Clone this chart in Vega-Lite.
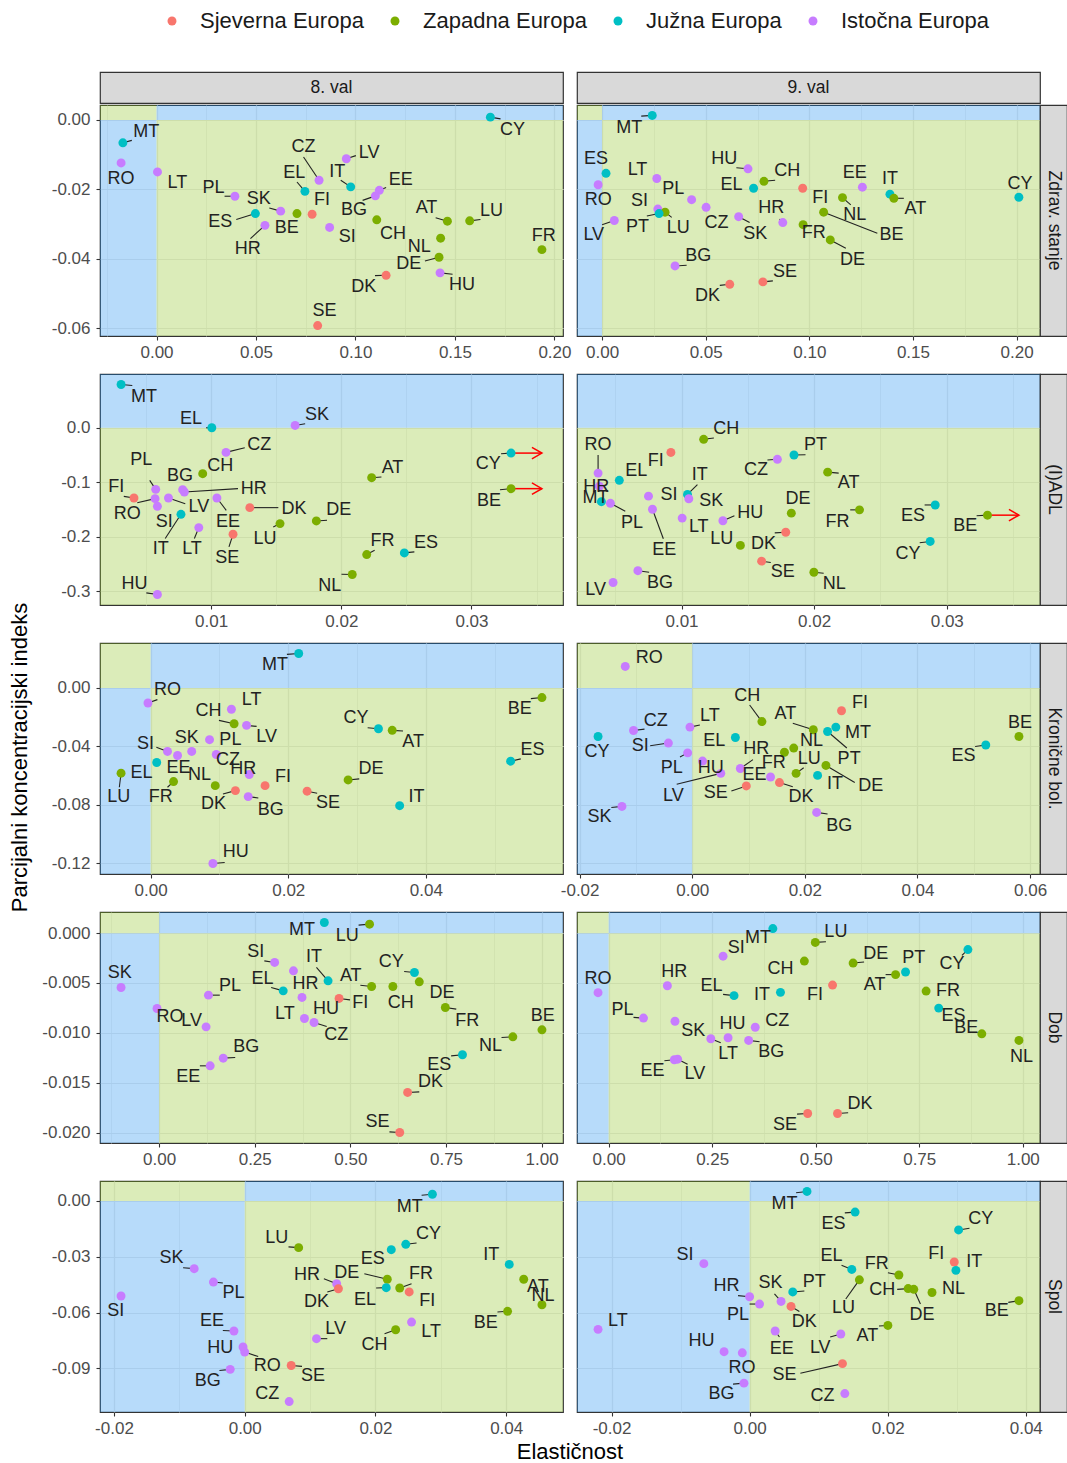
{
"$schema":"https://vega.github.io/schema/vega-lite/v6.json",
"background":"white",
"padding":{"left":9,"top":10,"right":0,"bottom":0},
"config":{
 "font":"Liberation Sans",
 "view":{"stroke":"#333333","strokeWidth":1.2},
 "axis":{"domain":false,"grid":true,"gridColor":"#ebebeb","labelFontSize":17,"labelColor":"#4d4d4d","tickColor":"#333333","tickSize":4,"tickWidth":1.1,"labelPadding":4,"labelFlush":false,"labelOverlap":false,"titleFontSize":22,"titleFontWeight":"normal","titleColor":"#000000"},
 "axisY":{"labelPadding":6},
 "legend":{"orient":"none","direction":"horizontal","columns":4,"labelFontSize":22,"labelColor":"#1a1a1a","symbolSize":80,"symbolType":"circle","labelOffset":17,"columnPadding":20,"symbolStrokeWidth":0,"labelLimit":400}
},
"datasets":{
"quad":[{"q":"b","x1":-2,"x2":0,"y1":-2,"y2":0},{"q":"g","x1":0,"x2":2,"y1":-2,"y2":0},{"q":"g","x1":-2,"x2":0,"y1":0,"y2":2},{"q":"b","x1":0,"x2":2,"y1":0,"y2":2}],
"pts":[
{"p":"Z","v":8,"c":"CY","r":"J","x":0.1678,"y":0.0008,"lx":0.1789,"ly":-0.0029,"ex":0.1729,"ey":0.0003},
{"p":"Z","v":8,"c":"MT","r":"J","x":-0.0169,"y":-0.0066,"lx":-0.0052,"ly":-0.0034,"ex":-0.0124,"ey":-0.0059},
{"p":"Z","v":8,"c":"RO","r":"I","x":-0.0178,"y":-0.0124,"lx":-0.0179,"ly":-0.017},
{"p":"Z","v":8,"c":"LT","r":"I","x":0.0005,"y":-0.015,"lx":0.0105,"ly":-0.0181},
{"p":"Z","v":8,"c":"PL","r":"I","x":0.0394,"y":-0.022,"lx":0.0286,"ly":-0.0196,"ex":0.0342,"ey":-0.022},
{"p":"Z","v":8,"c":"SK","r":"I","x":0.0624,"y":-0.0263,"lx":0.0514,"ly":-0.0228,"ex":0.0567,"ey":-0.0254},
{"p":"Z","v":8,"c":"ES","r":"J","x":0.0497,"y":-0.027,"lx":0.032,"ly":-0.0294,"ex":0.0401,"ey":-0.0287},
{"p":"Z","v":8,"c":"HR","r":"I","x":0.0545,"y":-0.0304,"lx":0.0459,"ly":-0.0371,"ex":0.0472,"ey":-0.0342},
{"p":"Z","v":8,"c":"BE","r":"Z","x":0.0706,"y":-0.027,"lx":0.0655,"ly":-0.0313},
{"p":"Z","v":8,"c":"FI","r":"S","x":0.0782,"y":-0.0272,"lx":0.0832,"ly":-0.023},
{"p":"Z","v":8,"c":"EL","r":"J","x":0.0746,"y":-0.0206,"lx":0.0692,"ly":-0.0153,"ex":0.0706,"ey":-0.0179},
{"p":"Z","v":8,"c":"CZ","r":"I","x":0.0817,"y":-0.0174,"lx":0.0739,"ly":-0.0077,"ex":0.0739,"ey":-0.0107},
{"p":"Z","v":8,"c":"IT","r":"J","x":0.0976,"y":-0.0193,"lx":0.0909,"ly":-0.0149,"ex":0.0926,"ey":-0.0174},
{"p":"Z","v":8,"c":"LV","r":"I","x":0.0954,"y":-0.0112,"lx":0.1069,"ly":-0.0096,"ex":0.1002,"ey":-0.0103},
{"p":"Z","v":8,"c":"SI","r":"I","x":0.087,"y":-0.031,"lx":0.0959,"ly":-0.0337},
{"p":"Z","v":8,"c":"EE","r":"I","x":0.112,"y":-0.0203,"lx":0.1227,"ly":-0.0174,"ex":0.1154,"ey":-0.0195},
{"p":"Z","v":8,"c":"BG","r":"I","x":0.11,"y":-0.0219,"lx":0.0993,"ly":-0.0261,"ex":0.1036,"ey":-0.0232},
{"p":"Z","v":8,"c":"CH","r":"Z","x":0.1107,"y":-0.0288,"lx":0.1188,"ly":-0.033},
{"p":"Z","v":8,"c":"AT","r":"Z","x":0.1462,"y":-0.0292,"lx":0.1357,"ly":-0.0253,"ex":0.1403,"ey":-0.0282},
{"p":"Z","v":8,"c":"LU","r":"Z","x":0.1574,"y":-0.0291,"lx":0.1684,"ly":-0.0263,"ex":0.1628,"ey":-0.0287},
{"p":"Z","v":8,"c":"NL","r":"Z","x":0.1428,"y":-0.0341,"lx":0.132,"ly":-0.0366},
{"p":"Z","v":8,"c":"DE","r":"Z","x":0.142,"y":-0.0396,"lx":0.1268,"ly":-0.0416,"ex":0.1349,"ey":-0.0407},
{"p":"Z","v":8,"c":"HU","r":"I","x":0.1425,"y":-0.0441,"lx":0.1535,"ly":-0.0476,"ex":0.1488,"ey":-0.0445},
{"p":"Z","v":8,"c":"DK","r":"S","x":0.1154,"y":-0.0448,"lx":0.1041,"ly":-0.0483,"ex":0.1098,"ey":-0.0449},
{"p":"Z","v":8,"c":"FR","r":"Z","x":0.1937,"y":-0.0374,"lx":0.1946,"ly":-0.0334},
{"p":"Z","v":8,"c":"SE","r":"S","x":0.081,"y":-0.0593,"lx":0.0844,"ly":-0.0551},
{"p":"Z","v":9,"c":"MT","r":"J","x":0.0242,"y":0.0013,"lx":0.0131,"ly":-0.0022,"ex":0.0189,"ey":0.0011},
{"p":"Z","v":9,"c":"ES","r":"J","x":0.0019,"y":-0.0154,"lx":-0.0029,"ly":-0.0114},
{"p":"Z","v":9,"c":"RO","r":"I","x":-0.0019,"y":-0.0187,"lx":-0.0019,"ly":-0.023},
{"p":"Z","v":9,"c":"LV","r":"I","x":0.0059,"y":-0.029,"lx":-0.004,"ly":-0.0332,"ex":0.0,"ey":-0.0302},
{"p":"Z","v":9,"c":"LT","r":"I","x":0.0264,"y":-0.0169,"lx":0.0171,"ly":-0.0143},
{"p":"Z","v":9,"c":"SI","r":"I","x":0.0269,"y":-0.0257,"lx":0.0181,"ly":-0.0233},
{"p":"Z","v":9,"c":"LU","r":"Z","x":0.0304,"y":-0.0266,"lx":0.0368,"ly":-0.0313,"ex":0.0336,"ey":-0.0281},
{"p":"Z","v":9,"c":"PT","r":"J","x":0.0275,"y":-0.027,"lx":0.0171,"ly":-0.0308,"ex":0.0216,"ey":-0.0277},
{"p":"Z","v":9,"c":"PL","r":"I","x":0.0432,"y":-0.023,"lx":0.0344,"ly":-0.0199},
{"p":"Z","v":9,"c":"CZ","r":"I","x":0.0502,"y":-0.0252,"lx":0.0552,"ly":-0.0297},
{"p":"Z","v":9,"c":"BG","r":"I","x":0.0352,"y":-0.0421,"lx":0.0464,"ly":-0.0391,"ex":0.0408,"ey":-0.0419},
{"p":"Z","v":9,"c":"HU","r":"I","x":0.0704,"y":-0.0141,"lx":0.0589,"ly":-0.0113,"ex":0.0648,"ey":-0.0138},
{"p":"Z","v":9,"c":"CH","r":"Z","x":0.0781,"y":-0.0177,"lx":0.0893,"ly":-0.0148,"ex":0.0835,"ey":-0.0174},
{"p":"Z","v":9,"c":"EL","r":"J","x":0.0731,"y":-0.0197,"lx":0.0624,"ly":-0.0189},
{"p":"Z","v":9,"c":"FI","r":"S","x":0.0968,"y":-0.0197,"lx":0.1053,"ly":-0.0225},
{"p":"Z","v":9,"c":"HR","r":"I","x":0.0872,"y":-0.0296,"lx":0.0816,"ly":-0.0255,"ex":0.0856,"ey":-0.0286},
{"p":"Z","v":9,"c":"SK","r":"I","x":0.0659,"y":-0.0279,"lx":0.0739,"ly":-0.033,"ex":0.0712,"ey":-0.0296},
{"p":"Z","v":9,"c":"FR","r":"Z","x":0.097,"y":-0.0302,"lx":0.1021,"ly":-0.0327},
{"p":"Z","v":9,"c":"BE","r":"Z","x":0.1069,"y":-0.0266,"lx":0.1397,"ly":-0.0332,"ex":0.1328,"ey":-0.0327},
{"p":"Z","v":9,"c":"NL","r":"Z","x":0.116,"y":-0.0224,"lx":0.1219,"ly":-0.0273,"ex":0.12,"ey":-0.0245},
{"p":"Z","v":9,"c":"DE","r":"Z","x":0.1101,"y":-0.0346,"lx":0.1208,"ly":-0.0403,"ex":0.1176,"ey":-0.037},
{"p":"Z","v":9,"c":"EE","r":"I","x":0.1256,"y":-0.0194,"lx":0.1219,"ly":-0.0154},
{"p":"Z","v":9,"c":"IT","r":"J","x":0.1389,"y":-0.0214,"lx":0.1389,"ly":-0.0171},
{"p":"Z","v":9,"c":"AT","r":"Z","x":0.1408,"y":-0.0226,"lx":0.1512,"ly":-0.0257,"ex":0.1456,"ey":-0.0226},
{"p":"Z","v":9,"c":"CY","r":"J","x":0.2011,"y":-0.0223,"lx":0.2016,"ly":-0.0184},
{"p":"Z","v":9,"c":"DK","r":"S","x":0.0616,"y":-0.0474,"lx":0.0509,"ly":-0.0507,"ex":0.0568,"ey":-0.0477},
{"p":"Z","v":9,"c":"SE","r":"S","x":0.0776,"y":-0.0467,"lx":0.0883,"ly":-0.0438,"ex":0.0824,"ey":-0.0464},
{"p":"A","v":8,"c":"MT","r":"J","x":0.00308,"y":0.0793,"lx":0.00484,"ly":0.0573,"ex":0.00394,"ey":0.0775},
{"p":"A","v":8,"c":"EL","r":"J","x":0.01005,"y":0.0,"lx":0.00845,"ly":0.0165,"ex":0.00961,"ey":0.0},
{"p":"A","v":8,"c":"SK","r":"I","x":0.01645,"y":0.0043,"lx":0.01813,"ly":0.0238,"ex":0.01722,"ey":0.0073},
{"p":"A","v":8,"c":"CZ","r":"I","x":0.01114,"y":-0.0451,"lx":0.01369,"ly":-0.0323,"ex":0.01258,"ey":-0.0366},
{"p":"A","v":8,"c":"CH","r":"Z","x":0.00935,"y":-0.0842,"lx":0.0107,"ly":-0.0701},
{"p":"A","v":8,"c":"BG","r":"I","x":0.00781,"y":-0.1135,"lx":0.0076,"ly":-0.0891},
{"p":"A","v":8,"c":"PL","r":"I","x":0.00574,"y":-0.1129,"lx":0.00463,"ly":-0.0586,"ex":0.00528,"ey":-0.0964},
{"p":"A","v":8,"c":"RO","r":"I","x":0.00569,"y":-0.1299,"lx":0.00355,"ly":-0.1574,"ex":0.00432,"ey":-0.1373},
{"p":"A","v":8,"c":"SI","r":"I","x":0.00587,"y":-0.144,"lx":0.00639,"ly":-0.1726},
{"p":"A","v":8,"c":"FI","r":"S","x":0.00407,"y":-0.1287,"lx":0.0027,"ly":-0.1086,"ex":0.00329,"ey":-0.1257},
{"p":"A","v":8,"c":"LV","r":"I","x":0.00672,"y":-0.1287,"lx":0.00905,"ly":-0.1452,"ex":0.00801,"ey":-0.1391},
{"p":"A","v":8,"c":"HR","r":"I","x":0.00794,"y":-0.1177,"lx":0.01328,"ly":-0.1129,"ex":0.01206,"ey":-0.1116},
{"p":"A","v":8,"c":"IT","r":"J","x":0.00768,"y":-0.1586,"lx":0.00613,"ly":-0.2214,"ex":0.00647,"ey":-0.2031},
{"p":"A","v":8,"c":"LT","r":"I","x":0.00905,"y":-0.183,"lx":0.00853,"ly":-0.2214,"ex":0.00871,"ey":-0.2031},
{"p":"A","v":8,"c":"EE","r":"I","x":0.01044,"y":-0.1287,"lx":0.01129,"ly":-0.1726,"ex":0.01116,"ey":-0.1513},
{"p":"A","v":8,"c":"SE","r":"S","x":0.01168,"y":-0.1952,"lx":0.01124,"ly":-0.2379,"ex":0.01137,"ey":-0.2184},
{"p":"A","v":8,"c":"DK","r":"S","x":0.01297,"y":-0.1464,"lx":0.01637,"ly":-0.1482,"ex":0.01516,"ey":-0.1464},
{"p":"A","v":8,"c":"LU","r":"Z","x":0.01529,"y":-0.1757,"lx":0.01413,"ly":-0.2031,"ex":0.01477,"ey":-0.1818},
{"p":"A","v":8,"c":"DE","r":"Z","x":0.01808,"y":-0.1708,"lx":0.0198,"ly":-0.1513,"ex":0.0189,"ey":-0.1696},
{"p":"A","v":8,"c":"AT","r":"Z","x":0.02233,"y":-0.0915,"lx":0.02393,"ly":-0.0732,"ex":0.02308,"ey":-0.0903},
{"p":"A","v":8,"c":"FR","r":"Z","x":0.02195,"y":-0.2324,"lx":0.02316,"ly":-0.2074,"ex":0.02256,"ey":-0.2245},
{"p":"A","v":8,"c":"ES","r":"J","x":0.02484,"y":-0.2294,"lx":0.02651,"ly":-0.2105,"ex":0.02561,"ey":-0.2275},
{"p":"A","v":8,"c":"NL","r":"Z","x":0.02084,"y":-0.269,"lx":0.01911,"ly":-0.2904,"ex":0.02001,"ey":-0.2684},
{"p":"A","v":8,"c":"HU","r":"I","x":0.00587,"y":-0.3056,"lx":0.00412,"ly":-0.2855,"ex":0.00502,"ey":-0.3026},
{"p":"A","v":8,"c":"CY","r":"J","x":0.03304,"y":-0.0464,"lx":0.03129,"ly":-0.0671,"ex":0.03227,"ey":-0.0476,"ax":0.03541},
{"p":"A","v":8,"c":"BE","r":"Z","x":0.03304,"y":-0.1116,"lx":0.03134,"ly":-0.1348,"ex":0.03219,"ey":-0.1135,"ax":0.03541},
{"p":"A","v":9,"c":"CH","r":"Z","x":0.01167,"y":-0.0211,"lx":0.01337,"ly":-0.0031,"ex":0.01244,"ey":-0.0187},
{"p":"A","v":9,"c":"FI","r":"S","x":0.0092,"y":-0.0452,"lx":0.00805,"ly":-0.0602},
{"p":"A","v":9,"c":"PT","r":"J","x":0.01848,"y":-0.0499,"lx":0.0201,"ly":-0.0319,"ex":0.01935,"ey":-0.0494},
{"p":"A","v":9,"c":"CZ","r":"I","x":0.01723,"y":-0.0578,"lx":0.01561,"ly":-0.0771,"ex":0.01648,"ey":-0.059},
{"p":"A","v":9,"c":"AT","r":"Z","x":0.02102,"y":-0.0813,"lx":0.0226,"ly":-0.1012,"ex":0.02185,"ey":-0.0831},
{"p":"A","v":9,"c":"RO","r":"I","x":0.00371,"y":-0.0831,"lx":0.00371,"ly":-0.0319,"ex":0.00371,"ey":-0.0499},
{"p":"A","v":9,"c":"EL","r":"J","x":0.00531,"y":-0.0963,"lx":0.00658,"ly":-0.08},
{"p":"A","v":9,"c":"HR","r":"I","x":0.00381,"y":-0.1072,"lx":0.00357,"ly":-0.1084},
{"p":"A","v":9,"c":"MT","r":"J","x":0.00396,"y":-0.1355,"lx":0.00352,"ly":-0.1282},
{"p":"A","v":9,"c":"PL","r":"I","x":0.00464,"y":-0.1385,"lx":0.00626,"ly":-0.1746,"ex":0.00576,"ey":-0.153},
{"p":"A","v":9,"c":"SI","r":"I","x":0.00751,"y":-0.1253,"lx":0.00905,"ly":-0.1241},
{"p":"A","v":9,"c":"EE","r":"I","x":0.00781,"y":-0.1493,"lx":0.0087,"ly":-0.2245,"ex":0.00863,"ey":-0.2035},
{"p":"A","v":9,"c":"IT","r":"J","x":0.01045,"y":-0.1222,"lx":0.01137,"ly":-0.0861,"ex":0.0112,"ey":-0.1041},
{"p":"A","v":9,"c":"SK","r":"I","x":0.01055,"y":-0.1301,"lx":0.01224,"ly":-0.1342},
{"p":"A","v":9,"c":"LT","r":"I","x":0.01005,"y":-0.1656,"lx":0.0113,"ly":-0.1824},
{"p":"A","v":9,"c":"HU","r":"I","x":0.01312,"y":-0.1704,"lx":0.01519,"ly":-0.1554,"ex":0.01399,"ey":-0.1614},
{"p":"A","v":9,"c":"LU","r":"Z","x":0.01444,"y":-0.2156,"lx":0.01304,"ly":-0.2047},
{"p":"A","v":9,"c":"DE","r":"Z","x":0.01828,"y":-0.1565,"lx":0.01878,"ly":-0.1313},
{"p":"A","v":9,"c":"DK","r":"S","x":0.01786,"y":-0.1915,"lx":0.01619,"ly":-0.2125,"ex":0.01703,"ey":-0.1927},
{"p":"A","v":9,"c":"SE","r":"S","x":0.01604,"y":-0.2445,"lx":0.01763,"ly":-0.2649,"ex":0.01673,"ey":-0.2469},
{"p":"A","v":9,"c":"NL","r":"Z","x":0.01998,"y":-0.2649,"lx":0.02152,"ly":-0.2866,"ex":0.02072,"ey":-0.2667},
{"p":"A","v":9,"c":"FR","r":"Z","x":0.02342,"y":-0.1505,"lx":0.02177,"ly":-0.1722,"ex":0.02272,"ey":-0.1505},
{"p":"A","v":9,"c":"ES","r":"J","x":0.02913,"y":-0.1415,"lx":0.02746,"ly":-0.1626,"ex":0.02833,"ey":-0.1415},
{"p":"A","v":9,"c":"BE","r":"Z","x":0.03307,"y":-0.1602,"lx":0.0314,"ly":-0.1806,"ex":0.03225,"ey":-0.1614,"ax":0.03544},
{"p":"A","v":9,"c":"CY","r":"J","x":0.02875,"y":-0.2084,"lx":0.02708,"ly":-0.2306,"ex":0.02796,"ey":-0.2107},
{"p":"A","v":9,"c":"BG","r":"I","x":0.00671,"y":-0.262,"lx":0.00838,"ly":-0.2847,"ex":0.00756,"ey":-0.2649},
{"p":"A","v":9,"c":"LV","r":"I","x":0.00484,"y":-0.2836,"lx":0.00352,"ly":-0.2968},
{"p":"K","v":8,"c":"MT","r":"J","x":0.02152,"y":0.0235,"lx":0.01809,"ly":0.0155,"ex":0.0198,"ey":0.0229},
{"p":"K","v":8,"c":"RO","r":"I","x":-0.00039,"y":-0.0103,"lx":0.00245,"ly":-0.0011,"ex":0.00098,"ey":-0.008},
{"p":"K","v":8,"c":"LT","r":"I","x":0.01174,"y":-0.0146,"lx":0.01467,"ly":-0.0085},
{"p":"K","v":8,"c":"CH","r":"Z","x":0.01213,"y":-0.0245,"lx":0.00841,"ly":-0.0158,"ex":0.00993,"ey":-0.0222},
{"p":"K","v":8,"c":"LV","r":"I","x":0.01394,"y":-0.0256,"lx":0.01687,"ly":-0.0336,"ex":0.0154,"ey":-0.0263},
{"p":"K","v":8,"c":"PL","r":"I","x":0.00856,"y":-0.0354,"lx":0.01159,"ly":-0.0354},
{"p":"K","v":8,"c":"SK","r":"I","x":0.00597,"y":-0.0434,"lx":0.00523,"ly":-0.0341},
{"p":"K","v":8,"c":"SI","r":"I","x":0.00245,"y":-0.0434,"lx":-0.00073,"ly":-0.0386,"ex":0.00083,"ey":-0.0405},
{"p":"K","v":8,"c":"EE","r":"I","x":0.00391,"y":-0.0462,"lx":0.00406,"ly":-0.0546},
{"p":"K","v":8,"c":"CZ","r":"I","x":0.00954,"y":-0.0455,"lx":0.01125,"ly":-0.0491},
{"p":"K","v":8,"c":"EL","r":"J","x":0.00088,"y":-0.051,"lx":-0.00132,"ly":-0.0581},
{"p":"K","v":8,"c":"LU","r":"Z","x":-0.0043,"y":-0.0583,"lx":-0.00465,"ly":-0.0748,"ex":-0.00455,"ey":-0.0679},
{"p":"K","v":8,"c":"FR","r":"Z","x":0.00333,"y":-0.064,"lx":0.00147,"ly":-0.0748,"ex":0.00245,"ey":-0.0679},
{"p":"K","v":8,"c":"NL","r":"Z","x":0.00939,"y":-0.0668,"lx":0.00709,"ly":-0.0592},
{"p":"K","v":8,"c":"HR","r":"I","x":0.01433,"y":-0.0592,"lx":0.01345,"ly":-0.0553},
{"p":"K","v":8,"c":"DK","r":"S","x":0.01232,"y":-0.0702,"lx":0.00914,"ly":-0.0793,"ex":0.01051,"ey":-0.0725},
{"p":"K","v":8,"c":"BG","r":"I","x":0.01418,"y":-0.0743,"lx":0.01746,"ly":-0.0834,"ex":0.01565,"ey":-0.0752},
{"p":"K","v":8,"c":"FI","r":"S","x":0.01663,"y":-0.0668,"lx":0.01922,"ly":-0.061},
{"p":"K","v":8,"c":"SE","r":"S","x":0.02274,"y":-0.0706,"lx":0.02577,"ly":-0.0789,"ex":0.0242,"ey":-0.072},
{"p":"K","v":8,"c":"CY","r":"J","x":0.03311,"y":-0.0279,"lx":0.02983,"ly":-0.0203,"ex":0.03154,"ey":-0.0272},
{"p":"K","v":8,"c":"AT","r":"Z","x":0.03511,"y":-0.029,"lx":0.03814,"ly":-0.037,"ex":0.03668,"ey":-0.0295},
{"p":"K","v":8,"c":"DE","r":"Z","x":0.0287,"y":-0.0629,"lx":0.03203,"ly":-0.0553,"ex":0.03032,"ey":-0.0622},
{"p":"K","v":8,"c":"IT","r":"J","x":0.03619,"y":-0.0805,"lx":0.03863,"ly":-0.0748},
{"p":"K","v":8,"c":"BE","r":"Z","x":0.05687,"y":-0.0066,"lx":0.05364,"ly":-0.0146,"ex":0.05526,"ey":-0.0073},
{"p":"K","v":8,"c":"ES","r":"J","x":0.05232,"y":-0.0501,"lx":0.0555,"ly":-0.0427,"ex":0.05379,"ey":-0.0485},
{"p":"K","v":8,"c":"HU","r":"I","x":0.00905,"y":-0.12,"lx":0.01237,"ly":-0.1125,"ex":0.01076,"ey":-0.1193},
{"p":"K","v":9,"c":"RO","r":"I","x":-0.0119,"y":0.0147,"lx":-0.00766,"ly":0.0205},
{"p":"K","v":9,"c":"CY","r":"J","x":-0.01673,"y":-0.0332,"lx":-0.0169,"ly":-0.044},
{"p":"K","v":9,"c":"CZ","r":"I","x":-0.01043,"y":-0.0291,"lx":-0.00648,"ly":-0.0223,"ex":-0.00848,"ey":-0.0282},
{"p":"K","v":9,"c":"SI","r":"I","x":-0.00424,"y":-0.0377,"lx":-0.00925,"ly":-0.04,"ex":-0.00748,"ey":-0.0395},
{"p":"K","v":9,"c":"LT","r":"I","x":-0.00041,"y":-0.0268,"lx":0.00312,"ly":-0.0191,"ex":0.00135,"ey":-0.0253},
{"p":"K","v":9,"c":"PL","r":"I","x":-0.00082,"y":-0.0444,"lx":-0.00365,"ly":-0.0546,"ex":-0.00218,"ey":-0.0472},
{"p":"K","v":9,"c":"LV","r":"I","x":0.00507,"y":-0.0584,"lx":-0.00336,"ly":-0.0738,"ex":-0.00277,"ey":-0.0659},
{"p":"K","v":9,"c":"HU","r":"I","x":0.00183,"y":-0.05,"lx":0.0033,"ly":-0.0546},
{"p":"K","v":9,"c":"EL","r":"J","x":0.00766,"y":-0.0339,"lx":0.00389,"ly":-0.0365},
{"p":"K","v":9,"c":"HR","r":"I","x":0.00854,"y":-0.0551,"lx":0.01137,"ly":-0.0417,"ex":0.01078,"ey":-0.049},
{"p":"K","v":9,"c":"SE","r":"S","x":0.0096,"y":-0.067,"lx":0.00418,"ly":-0.072,"ex":0.00695,"ey":-0.0704},
{"p":"K","v":9,"c":"EE","r":"I","x":0.0139,"y":-0.0609,"lx":0.01107,"ly":-0.0598},
{"p":"K","v":9,"c":"DK","r":"S","x":0.01549,"y":-0.0647,"lx":0.01932,"ly":-0.0749,"ex":0.01785,"ey":-0.0675},
{"p":"K","v":9,"c":"CH","r":"Z","x":0.01237,"y":-0.023,"lx":0.00978,"ly":-0.0056,"ex":0.01019,"ey":-0.0117},
{"p":"K","v":9,"c":"AT","r":"Z","x":0.0215,"y":-0.0286,"lx":0.01655,"ly":-0.0179,"ex":0.01785,"ey":-0.0242},
{"p":"K","v":9,"c":"NL","r":"Z","x":0.01802,"y":-0.0411,"lx":0.0212,"ly":-0.0365},
{"p":"K","v":9,"c":"FR","r":"Z","x":0.01637,"y":-0.044,"lx":0.01449,"ly":-0.0516},
{"p":"K","v":9,"c":"LU","r":"Z","x":0.01844,"y":-0.0584,"lx":0.02079,"ly":-0.0485,"ex":0.01979,"ey":-0.0546},
{"p":"K","v":9,"c":"DE","r":"Z","x":0.02374,"y":-0.053,"lx":0.03169,"ly":-0.067,"ex":0.02886,"ey":-0.0647},
{"p":"K","v":9,"c":"FI","r":"S","x":0.02651,"y":-0.0156,"lx":0.0298,"ly":-0.0102},
{"p":"K","v":9,"c":"MT","r":"J","x":0.0255,"y":-0.0268,"lx":0.02945,"ly":-0.0309},
{"p":"K","v":9,"c":"PT","r":"J","x":0.02403,"y":-0.0298,"lx":0.02786,"ly":-0.0485,"ex":0.02745,"ey":-0.0411},
{"p":"K","v":9,"c":"IT","r":"J","x":0.02226,"y":-0.0598,"lx":0.02533,"ly":-0.0659},
{"p":"K","v":9,"c":"BG","r":"I","x":0.02209,"y":-0.0851,"lx":0.02609,"ly":-0.0941,"ex":0.02403,"ey":-0.0862},
{"p":"K","v":9,"c":"BE","r":"Z","x":0.05802,"y":-0.0332,"lx":0.0582,"ly":-0.0237},
{"p":"K","v":9,"c":"ES","r":"J","x":0.05213,"y":-0.039,"lx":0.04818,"ly":-0.0467,"ex":0.05024,"ey":-0.04},
{"p":"K","v":9,"c":"SK","r":"I","x":-0.01249,"y":-0.081,"lx":-0.01649,"ly":-0.0884,"ex":-0.01437,"ey":-0.0817},
{"p":"D","v":8,"c":"MT","r":"J","x":0.4319,"y":0.00107,"lx":0.3736,"ly":0.00033},
{"p":"D","v":8,"c":"LU","r":"Z","x":0.5501,"y":0.0009,"lx":0.4919,"ly":-0.00027,"ex":0.5215,"ey":0.0008},
{"p":"D","v":8,"c":"SK","r":"I","x":-0.0995,"y":-0.00545,"lx":-0.103,"ly":-0.004},
{"p":"D","v":8,"c":"SI","r":"I","x":0.302,"y":-0.00294,"lx":0.2527,"ly":-0.00187,"ex":0.2751,"ey":-0.00278},
{"p":"D","v":8,"c":"HR","r":"I","x":0.3512,"y":-0.00378,"lx":0.3826,"ly":-0.00512},
{"p":"D","v":8,"c":"HU","r":"I","x":0.3736,"y":-0.00645,"lx":0.4364,"ly":-0.00756},
{"p":"D","v":8,"c":"LT","r":"I","x":0.3799,"y":-0.00856,"lx":0.3288,"ly":-0.00813},
{"p":"D","v":8,"c":"CZ","r":"I","x":0.405,"y":-0.00896,"lx":0.4632,"ly":-0.01023,"ex":0.4381,"ey":-0.00936},
{"p":"D","v":8,"c":"IT","r":"J","x":0.4417,"y":-0.00478,"lx":0.405,"ly":-0.00244,"ex":0.4113,"ey":-0.00344},
{"p":"D","v":8,"c":"EL","r":"J","x":0.3244,"y":-0.00579,"lx":0.2706,"ly":-0.00461,"ex":0.293,"ey":-0.00545},
{"p":"D","v":8,"c":"PL","r":"I","x":0.129,"y":-0.00622,"lx":0.1855,"ly":-0.00535,"ex":0.1586,"ey":-0.00622},
{"p":"D","v":8,"c":"RO","r":"I","x":-0.0054,"y":-0.00756,"lx":0.0287,"ly":-0.00846},
{"p":"D","v":8,"c":"LV","r":"I","x":0.1228,"y":-0.0094,"lx":0.0851,"ly":-0.0088},
{"p":"D","v":8,"c":"FI","r":"S","x":0.4704,"y":-0.00655,"lx":0.526,"ly":-0.00696,"ex":0.4991,"ey":-0.00669},
{"p":"D","v":8,"c":"AT","r":"Z","x":0.5555,"y":-0.00535,"lx":0.5009,"ly":-0.00428,"ex":0.526,"ey":-0.00522},
{"p":"D","v":8,"c":"CH","r":"Z","x":0.6111,"y":-0.00535,"lx":0.6317,"ly":-0.00696},
{"p":"D","v":8,"c":"CY","r":"J","x":0.6675,"y":-0.00395,"lx":0.6066,"ly":-0.00294,"ex":0.6406,"ey":-0.00385},
{"p":"D","v":8,"c":"DE","r":"Z","x":0.6801,"y":-0.00488,"lx":0.7392,"ly":-0.00602},
{"p":"D","v":8,"c":"FR","r":"Z","x":0.7482,"y":-0.00746,"lx":0.8055,"ly":-0.00879,"ex":0.7768,"ey":-0.00762},
{"p":"D","v":8,"c":"BE","r":"Z","x":1.0008,"y":-0.0097,"lx":1.0026,"ly":-0.00829},
{"p":"D","v":8,"c":"NL","r":"Z","x":0.9247,"y":-0.0104,"lx":0.8664,"ly":-0.01137,"ex":0.8951,"ey":-0.01047},
{"p":"D","v":8,"c":"ES","r":"J","x":0.793,"y":-0.0122,"lx":0.732,"ly":-0.01324,"ex":0.7634,"ey":-0.01231},
{"p":"D","v":8,"c":"BG","r":"I","x":0.1676,"y":-0.01254,"lx":0.2276,"ly":-0.01147,"ex":0.1989,"ey":-0.01247},
{"p":"D","v":8,"c":"EE","r":"I","x":0.1335,"y":-0.01331,"lx":0.0762,"ly":-0.01448,"ex":0.1066,"ey":-0.01331},
{"p":"D","v":8,"c":"DK","r":"S","x":0.6496,"y":-0.01598,"lx":0.7096,"ly":-0.01491,"ex":0.6801,"ey":-0.01592},
{"p":"D","v":8,"c":"SE","r":"S","x":0.629,"y":-0.02,"lx":0.5708,"ly":-0.01893,"ex":0.6021,"ey":-0.01993},
{"p":"D","v":9,"c":"MT","r":"J","x":0.3965,"y":0.00046,"lx":0.3605,"ly":-0.00053},
{"p":"D","v":9,"c":"LU","r":"Z","x":0.499,"y":-0.00093,"lx":0.5487,"ly":0.00007,"ex":0.5247,"ey":-0.00086},
{"p":"D","v":9,"c":"SI","r":"I","x":0.2763,"y":-0.00231,"lx":0.3084,"ly":-0.00152},
{"p":"D","v":9,"c":"CH","r":"Z","x":0.4726,"y":-0.0028,"lx":0.4149,"ly":-0.00356},
{"p":"D","v":9,"c":"DE","r":"Z","x":0.5903,"y":-0.003,"lx":0.6448,"ly":-0.00208,"ex":0.6168,"ey":-0.0029},
{"p":"D","v":9,"c":"PT","r":"J","x":0.7169,"y":-0.0039,"lx":0.7369,"ly":-0.00251},
{"p":"D","v":9,"c":"CY","r":"J","x":0.8675,"y":-0.00165,"lx":0.829,"ly":-0.00307,"ex":0.8531,"ey":-0.00224},
{"p":"D","v":9,"c":"AT","r":"Z","x":0.6929,"y":-0.00416,"lx":0.6424,"ly":-0.00521,"ex":0.6688,"ey":-0.00416},
{"p":"D","v":9,"c":"RO","r":"I","x":-0.0256,"y":-0.00597,"lx":-0.0256,"ly":-0.00462},
{"p":"D","v":9,"c":"HR","r":"I","x":0.1418,"y":-0.00528,"lx":0.1586,"ly":-0.0039},
{"p":"D","v":9,"c":"EL","r":"J","x":0.3028,"y":-0.00627,"lx":0.2483,"ly":-0.00528,"ex":0.2763,"ey":-0.00614},
{"p":"D","v":9,"c":"IT","r":"J","x":0.4149,"y":-0.00594,"lx":0.3701,"ly":-0.00621},
{"p":"D","v":9,"c":"FI","r":"S","x":0.5407,"y":-0.00521,"lx":0.4982,"ly":-0.00621},
{"p":"D","v":9,"c":"FR","r":"Z","x":0.7666,"y":-0.00581,"lx":0.8194,"ly":-0.00581},
{"p":"D","v":9,"c":"ES","r":"J","x":0.797,"y":-0.00752,"lx":0.833,"ly":-0.00835},
{"p":"D","v":9,"c":"BE","r":"Z","x":0.9011,"y":-0.0101,"lx":0.8635,"ly":-0.0095},
{"p":"D","v":9,"c":"NL","r":"Z","x":0.9908,"y":-0.01076,"lx":0.9972,"ly":-0.01241},
{"p":"D","v":9,"c":"PL","r":"I","x":0.0841,"y":-0.00852,"lx":0.0336,"ly":-0.00769,"ex":0.0601,"ey":-0.00845},
{"p":"D","v":9,"c":"SK","r":"I","x":0.1602,"y":-0.00884,"lx":0.2043,"ly":-0.00984},
{"p":"D","v":9,"c":"CZ","r":"I","x":0.354,"y":-0.00944,"lx":0.4069,"ly":-0.00878},
{"p":"D","v":9,"c":"HU","r":"I","x":0.2884,"y":-0.01049,"lx":0.2988,"ly":-0.00911},
{"p":"D","v":9,"c":"LT","r":"I","x":0.2467,"y":-0.01059,"lx":0.2884,"ly":-0.01215,"ex":0.2707,"ey":-0.011},
{"p":"D","v":9,"c":"BG","r":"I","x":0.338,"y":-0.01076,"lx":0.3925,"ly":-0.01188,"ex":0.3645,"ey":-0.0109},
{"p":"D","v":9,"c":"EE","r":"I","x":0.1586,"y":-0.0127,"lx":0.1057,"ly":-0.01386,"ex":0.1346,"ey":-0.0128},
{"p":"D","v":9,"c":"LV","r":"I","x":0.1666,"y":-0.01264,"lx":0.2083,"ly":-0.01412,"ex":0.1906,"ey":-0.01314},
{"p":"D","v":9,"c":"SE","r":"S","x":0.4806,"y":-0.01809,"lx":0.4261,"ly":-0.01925,"ex":0.455,"ey":-0.01815},
{"p":"D","v":9,"c":"DK","r":"S","x":0.5527,"y":-0.01809,"lx":0.6072,"ly":-0.0171,"ex":0.5783,"ey":-0.01802},
{"p":"S","v":8,"c":"MT","r":"J","x":0.02871,"y":0.00359,"lx":0.02526,"ly":-0.00323,"ex":0.02706,"ey":0.00305},
{"p":"S","v":8,"c":"LU","r":"Z","x":0.00825,"y":-0.0251,"lx":0.0049,"ly":-0.0197,"ex":0.0067,"ey":-0.0247},
{"p":"S","v":8,"c":"CY","r":"J","x":0.02464,"y":-0.0233,"lx":0.0281,"ly":-0.0176,"ex":0.02629,"ey":-0.0226},
{"p":"S","v":8,"c":"ES","r":"J","x":0.02242,"y":-0.0262,"lx":0.01959,"ly":-0.031},
{"p":"S","v":8,"c":"SK","r":"I","x":-0.00773,"y":-0.0364,"lx":-0.01119,"ly":-0.0307,"ex":-0.00943,"ey":-0.0359},
{"p":"S","v":8,"c":"PL","r":"I","x":-0.00479,"y":-0.0436,"lx":-0.0017,"ly":-0.0495,"ex":-0.00335,"ey":-0.0441},
{"p":"S","v":8,"c":"SI","r":"I","x":-0.01892,"y":-0.0511,"lx":-0.01974,"ly":-0.0592},
{"p":"S","v":8,"c":"HR","r":"I","x":0.01407,"y":-0.0445,"lx":0.00954,"ly":-0.04,"ex":0.01211,"ey":-0.0418},
{"p":"S","v":8,"c":"DK","r":"S","x":0.01433,"y":-0.0472,"lx":0.01098,"ly":-0.0543,"ex":0.01263,"ey":-0.0489},
{"p":"S","v":8,"c":"DE","r":"Z","x":0.02181,"y":-0.0421,"lx":0.01562,"ly":-0.0385,"ex":0.0183,"ey":-0.0391},
{"p":"S","v":8,"c":"EL","r":"J","x":0.02165,"y":-0.0466,"lx":0.0184,"ly":-0.0531,"ex":0.0201,"ey":-0.0468},
{"p":"S","v":8,"c":"FR","r":"Z","x":0.02371,"y":-0.0468,"lx":0.02696,"ly":-0.0394,"ex":0.02552,"ey":-0.0445},
{"p":"S","v":8,"c":"FI","r":"S","x":0.02516,"y":-0.0489,"lx":0.02794,"ly":-0.0538},
{"p":"S","v":8,"c":"IT","r":"J","x":0.04047,"y":-0.0341,"lx":0.03773,"ly":-0.0292},
{"p":"S","v":8,"c":"AT","r":"Z","x":0.04268,"y":-0.0421,"lx":0.04485,"ly":-0.0463},
{"p":"S","v":8,"c":"NL","r":"Z","x":0.04547,"y":-0.0558,"lx":0.04562,"ly":-0.0511},
{"p":"S","v":8,"c":"BE","r":"Z","x":0.04021,"y":-0.0593,"lx":0.03686,"ly":-0.0654,"ex":0.03866,"ey":-0.0597},
{"p":"S","v":8,"c":"LT","r":"I","x":0.02552,"y":-0.0651,"lx":0.02851,"ly":-0.0705},
{"p":"S","v":8,"c":"CH","r":"Z","x":0.02309,"y":-0.0692,"lx":0.01985,"ly":-0.0776,"ex":0.02139,"ey":-0.0714},
{"p":"S","v":8,"c":"LV","r":"I","x":0.01098,"y":-0.074,"lx":0.01392,"ly":-0.0687,"ex":0.01263,"ey":-0.074},
{"p":"S","v":8,"c":"EE","r":"I","x":-0.00165,"y":-0.0699,"lx":-0.005,"ly":-0.0645,"ex":-0.00335,"ey":-0.0696},
{"p":"S","v":8,"c":"HU","r":"I","x":-0.00026,"y":-0.0785,"lx":-0.00376,"ly":-0.0789},
{"p":"S","v":8,"c":"RO","r":"I","x":0.0,"y":-0.0812,"lx":0.00345,"ly":-0.0889,"ex":0.00206,"ey":-0.0836},
{"p":"S","v":8,"c":"BG","r":"I","x":-0.00222,"y":-0.0905,"lx":-0.00567,"ly":-0.0968,"ex":-0.00387,"ey":-0.0911},
{"p":"S","v":8,"c":"SE","r":"S","x":0.00711,"y":-0.0884,"lx":0.01046,"ly":-0.0943,"ex":0.00876,"ey":-0.0889},
{"p":"S","v":8,"c":"CZ","r":"I","x":0.0068,"y":-0.1078,"lx":0.00345,"ly":-0.1036},
{"p":"S","v":9,"c":"MT","r":"J","x":0.00831,"y":0.0051,"lx":0.00504,"ly":-0.0014,"ex":0.00673,"ey":0.0044},
{"p":"S","v":9,"c":"ES","r":"J","x":0.01528,"y":-0.006,"lx":0.01215,"ly":-0.0124,"ex":0.01379,"ey":-0.0064},
{"p":"S","v":9,"c":"CY","r":"J","x":0.03027,"y":-0.0156,"lx":0.03348,"ly":-0.0099,"ex":0.03185,"ey":-0.0147},
{"p":"S","v":9,"c":"SI","r":"I","x":-0.00663,"y":-0.0337,"lx":-0.00937,"ly":-0.0288},
{"p":"S","v":9,"c":"EL","r":"J","x":0.0148,"y":-0.0368,"lx":0.01187,"ly":-0.0294,"ex":0.01331,"ey":-0.0346},
{"p":"S","v":9,"c":"FR","r":"Z","x":0.02162,"y":-0.0398,"lx":0.0184,"ly":-0.0337,"ex":0.02003,"ey":-0.0386},
{"p":"S","v":9,"c":"FI","r":"S","x":0.02964,"y":-0.0328,"lx":0.02705,"ly":-0.0283},
{"p":"S","v":9,"c":"IT","r":"J","x":0.02988,"y":-0.0373,"lx":0.03252,"ly":-0.0328},
{"p":"S","v":9,"c":"LU","r":"Z","x":0.0159,"y":-0.0424,"lx":0.0136,"ly":-0.0577,"ex":0.01393,"ey":-0.0527},
{"p":"S","v":9,"c":"CH","r":"Z","x":0.02296,"y":-0.0471,"lx":0.01921,"ly":-0.048,"ex":0.02138,"ey":-0.0475},
{"p":"S","v":9,"c":"DE","r":"Z","x":0.02378,"y":-0.0475,"lx":0.02498,"ly":-0.0612,"ex":0.02474,"ey":-0.0554},
{"p":"S","v":9,"c":"NL","r":"Z","x":0.02642,"y":-0.0492,"lx":0.02954,"ly":-0.0471},
{"p":"S","v":9,"c":"BE","r":"Z","x":0.03901,"y":-0.0536,"lx":0.03579,"ly":-0.0594,"ex":0.03747,"ey":-0.0545},
{"p":"S","v":9,"c":"PT","r":"J","x":0.00625,"y":-0.0489,"lx":0.00937,"ly":-0.0435,"ex":0.00793,"ey":-0.0484},
{"p":"S","v":9,"c":"SK","r":"I","x":0.00456,"y":-0.054,"lx":0.00303,"ly":-0.0442,"ex":0.0036,"ey":-0.05},
{"p":"S","v":9,"c":"DK","r":"S","x":0.006,"y":-0.0567,"lx":0.00793,"ly":-0.0651,"ex":0.00721,"ey":-0.0594},
{"p":"S","v":9,"c":"HR","r":"I","x":0.0,"y":-0.0515,"lx":-0.00336,"ly":-0.0457,"ex":-0.00168,"ey":-0.0509},
{"p":"S","v":9,"c":"PL","r":"I","x":0.00144,"y":-0.0554,"lx":-0.00168,"ly":-0.0612,"ex":0.0,"ey":-0.0554},
{"p":"S","v":9,"c":"LT","r":"I","x":-0.02195,"y":-0.069,"lx":-0.01907,"ly":-0.0643},
{"p":"S","v":9,"c":"EE","r":"I","x":0.0037,"y":-0.0699,"lx":0.00466,"ly":-0.0793,"ex":0.00432,"ey":-0.0731},
{"p":"S","v":9,"c":"LV","r":"I","x":0.01321,"y":-0.0715,"lx":0.01023,"ly":-0.079,"ex":0.01167,"ey":-0.0731},
{"p":"S","v":9,"c":"AT","r":"Z","x":0.02003,"y":-0.0669,"lx":0.01705,"ly":-0.0725,"ex":0.01874,"ey":-0.0672},
{"p":"S","v":9,"c":"HU","r":"I","x":-0.0037,"y":-0.081,"lx":-0.00697,"ly":-0.0754},
{"p":"S","v":9,"c":"RO","r":"I","x":-0.00106,"y":-0.0816,"lx":-0.0011,"ly":-0.0899},
{"p":"S","v":9,"c":"BG","r":"I","x":-0.00082,"y":-0.0979,"lx":-0.00408,"ly":-0.1037,"ex":-0.0024,"ey":-0.0984},
{"p":"S","v":9,"c":"SE","r":"S","x":0.01345,"y":-0.0874,"lx":0.00504,"ly":-0.0935,"ex":0.00735,"ey":-0.0926},
{"p":"S","v":9,"c":"CZ","r":"I","x":0.01379,"y":-0.1035,"lx":0.01057,"ly":-0.1049}
]
},
"spacing":69,
"bounds":"flush",
"hconcat":[
{"width":22,"height":1371,"view":{"stroke":null},"data":{"values":[{"t":"Parcijalni koncentracijski indeks"}]},"mark":{"type":"text","angle":-90,"fontSize":22,"color":"#000000"},"encoding":{"text":{"field":"t"}}},
{"spacing":0,"vconcat":[
{"hconcat":[
 {"width":463,"height":31,"view":{"fill":"#d9d9d9","stroke":"#333333","strokeWidth":1.2},"data":{"values":[{"t":"8. val"}]},"mark":{"type":"text","fontSize":17.5,"color":"#1a1a1a"},"encoding":{"text":{"field":"t"}}},
 {"width":463,"height":31,"view":{"fill":"#d9d9d9","stroke":"#333333","strokeWidth":1.2},"data":{"values":[{"t":"9. val"}]},"mark":{"type":"text","fontSize":17.5,"color":"#1a1a1a"},"encoding":{"text":{"field":"t"}}}
],"spacing":14,"bounds":"flush"},
{"spacing":12,"vconcat":[
{"spacing":14,"bounds":"flush","hconcat":[
  {"width":463,"height":231,"layer":[
   {"data":{"name":"quad"},"mark":{"type":"rect","clip":true,"opacity":0.3},"encoding":{
    "x":{"field":"x1","type":"quantitative","scale":{"domain":[-0.0284,0.2043],"nice":false,"zero":false},"axis":{"title":null,"values":[-0.025,0,0.025,0.05,0.075,0.1,0.125,0.15,0.175,0.2],"labelExpr":"abs(datum.value/0.05-round(datum.value/0.05))<1e-6?replace(format(datum.value,'.2f'),'−','-'):''","tickOpacity":{"condition":{"test":"abs(datum.value/0.05-round(datum.value/0.05))>1e-6","value":0},"value":1},"gridWidth":{"condition":{"test":"abs(datum.value/0.05-round(datum.value/0.05))>1e-6","value":0.6},"value":1.2}}},
    "x2":{"field":"x2"},
    "y":{"field":"y1","type":"quantitative","scale":{"domain":[-0.0623,0.0043],"nice":false,"zero":false},"axis":{"title":null,"values":[-0.06,-0.05,-0.04,-0.03,-0.02,-0.01,0],"labelExpr":"abs(datum.value/0.02-round(datum.value/0.02))<1e-6?replace(format(datum.value,'.2f'),'−','-'):''","tickOpacity":{"condition":{"test":"abs(datum.value/0.02-round(datum.value/0.02))>1e-6","value":0},"value":1},"gridWidth":{"condition":{"test":"abs(datum.value/0.02-round(datum.value/0.02))>1e-6","value":0.6},"value":1.2}}},
    "y2":{"field":"y2"},
    "fill":{"condition":{"test":"datum.q=='b'","value":"#0f87ee"},"value":"#87c016"}}},
   {"data":{"name":"pts"},"transform":[{"filter":"datum.p=='Z'&&datum.v==8"}],"layer":[
    {"transform":[{"filter":"isValid(datum.ex)"}],"mark":{"type":"rule","color":"#222222","strokeWidth":1.1},"encoding":{"x":{"field":"x","type":"quantitative"},"y":{"field":"y","type":"quantitative"},"x2":{"field":"ex"},"y2":{"field":"ey"}}},
    {"mark":{"type":"circle","size":80,"opacity":1},"encoding":{"x":{"field":"x","type":"quantitative"},"y":{"field":"y","type":"quantitative"},"color":{"field":"r","type":"nominal","scale":{"domain":["S","Z","J","I"],"range":["#F8766D","#7CAE00","#00BFC4","#C77CFF"]},"legend":{"title":null,"legendX":152,"legendY":-62,"labelExpr":"datum.label=='S'?'Sjeverna Europa':datum.label=='Z'?'Zapadna Europa':datum.label=='J'?'Južna Europa':'Istočna Europa'"}}}},
    {"mark":{"type":"text","fontSize":18,"color":"#222222"},"encoding":{"x":{"field":"lx","type":"quantitative"},"y":{"field":"ly","type":"quantitative"},"text":{"field":"c"}}}
   ]}
  ]},
  {"spacing":0,"bounds":"flush","hconcat":[
  {"width":463,"height":231,"layer":[
   {"data":{"name":"quad"},"mark":{"type":"rect","clip":true,"opacity":0.3},"encoding":{
    "x":{"field":"x1","type":"quantitative","scale":{"domain":[-0.0121,0.2113],"nice":false,"zero":false},"axis":{"title":null,"values":[0,0.025,0.05,0.075,0.1,0.125,0.15,0.175,0.2],"labelExpr":"abs(datum.value/0.05-round(datum.value/0.05))<1e-6?replace(format(datum.value,'.2f'),'−','-'):''","tickOpacity":{"condition":{"test":"abs(datum.value/0.05-round(datum.value/0.05))>1e-6","value":0},"value":1},"gridWidth":{"condition":{"test":"abs(datum.value/0.05-round(datum.value/0.05))>1e-6","value":0.6},"value":1.2}}},
    "x2":{"field":"x2"},
    "y":{"field":"y1","type":"quantitative","scale":{"domain":[-0.0623,0.0043],"nice":false,"zero":false},"axis":{"title":null,"values":[-0.06,-0.05,-0.04,-0.03,-0.02,-0.01,0],"labels":false,"ticks":false,"gridWidth":{"condition":{"test":"abs(datum.value/0.02-round(datum.value/0.02))>1e-6","value":0.6},"value":1.2}}},
    "y2":{"field":"y2"},
    "fill":{"condition":{"test":"datum.q=='b'","value":"#0f87ee"},"value":"#87c016"}}},
   {"data":{"name":"pts"},"transform":[{"filter":"datum.p=='Z'&&datum.v==9"}],"layer":[
    {"transform":[{"filter":"isValid(datum.ex)"}],"mark":{"type":"rule","color":"#222222","strokeWidth":1.1},"encoding":{"x":{"field":"x","type":"quantitative"},"y":{"field":"y","type":"quantitative"},"x2":{"field":"ex"},"y2":{"field":"ey"}}},
    {"mark":{"type":"circle","size":80,"opacity":1},"encoding":{"x":{"field":"x","type":"quantitative"},"y":{"field":"y","type":"quantitative"},"color":{"field":"r","type":"nominal","scale":{"domain":["S","Z","J","I"],"range":["#F8766D","#7CAE00","#00BFC4","#C77CFF"]},"legend":{"title":null,"legendX":152,"legendY":-62,"labelExpr":"datum.label=='S'?'Sjeverna Europa':datum.label=='Z'?'Zapadna Europa':datum.label=='J'?'Južna Europa':'Istočna Europa'"}}}},
    {"mark":{"type":"text","fontSize":18,"color":"#222222"},"encoding":{"x":{"field":"lx","type":"quantitative"},"y":{"field":"ly","type":"quantitative"},"text":{"field":"c"}}}
   ]}
  ]},
  {"width":27,"height":231,"view":{"fill":"#d9d9d9","stroke":"#333333","strokeWidth":1.2},"data":{"values":[{"t":"Zdrav. stanje"}]},"mark":{"type":"text","fontSize":17.5,"angle":90,"color":"#1a1a1a"},"encoding":{"text":{"field":"t"}}}
  ]}
]},
{"spacing":14,"bounds":"flush","hconcat":[
  {"width":463,"height":231,"layer":[
   {"data":{"name":"quad"},"mark":{"type":"rect","clip":true,"opacity":0.3},"encoding":{
    "x":{"field":"x1","type":"quantitative","scale":{"domain":[0.00146,0.03703],"nice":false,"zero":false},"axis":{"title":null,"values":[0.005,0.01,0.015,0.02,0.025,0.03,0.035],"labelExpr":"abs(datum.value/0.01-round(datum.value/0.01))<1e-6?replace(format(datum.value,'.2f'),'−','-'):''","tickOpacity":{"condition":{"test":"abs(datum.value/0.01-round(datum.value/0.01))>1e-6","value":0},"value":1},"gridWidth":{"condition":{"test":"abs(datum.value/0.01-round(datum.value/0.01))>1e-6","value":0.6},"value":1.2}}},
    "x2":{"field":"x2"},
    "y":{"field":"y1","type":"quantitative","scale":{"domain":[-0.3249,0.0986],"nice":false,"zero":false},"axis":{"title":null,"values":[-0.3,-0.25,-0.2,-0.15,-0.1,-0.05,0,0.05],"labelExpr":"abs(datum.value/0.1-round(datum.value/0.1))<1e-6?replace(format(datum.value,'.1f'),'−','-'):''","tickOpacity":{"condition":{"test":"abs(datum.value/0.1-round(datum.value/0.1))>1e-6","value":0},"value":1},"gridWidth":{"condition":{"test":"abs(datum.value/0.1-round(datum.value/0.1))>1e-6","value":0.6},"value":1.2}}},
    "y2":{"field":"y2"},
    "fill":{"condition":{"test":"datum.q=='b'","value":"#0f87ee"},"value":"#87c016"}}},
   {"data":{"name":"pts"},"transform":[{"filter":"datum.p=='A'&&datum.v==8"}],"layer":[
    {"transform":[{"filter":"isValid(datum.ex)"}],"mark":{"type":"rule","color":"#222222","strokeWidth":1.1},"encoding":{"x":{"field":"x","type":"quantitative"},"y":{"field":"y","type":"quantitative"},"x2":{"field":"ex"},"y2":{"field":"ey"}}},
    {"transform":[{"filter":"isValid(datum.ax)"}],"mark":{"type":"rule","color":"#ff0000","strokeWidth":1.5},"encoding":{"x":{"field":"x","type":"quantitative"},"y":{"field":"y","type":"quantitative"},"x2":{"field":"ax"}}},
    {"transform":[{"filter":"isValid(datum.ax)"}],"mark":{"type":"point","shape":"M-2,-1.15L0,0L-2,1.15","filled":false,"size":100,"color":"#ff0000","strokeWidth":1.5,"opacity":1},"encoding":{"x":{"field":"ax","type":"quantitative"},"y":{"field":"y","type":"quantitative"}}},
    {"mark":{"type":"circle","size":80,"opacity":1},"encoding":{"x":{"field":"x","type":"quantitative"},"y":{"field":"y","type":"quantitative"},"color":{"field":"r","type":"nominal","scale":{"domain":["S","Z","J","I"],"range":["#F8766D","#7CAE00","#00BFC4","#C77CFF"]},"legend":{"title":null,"legendX":152,"legendY":-62,"labelExpr":"datum.label=='S'?'Sjeverna Europa':datum.label=='Z'?'Zapadna Europa':datum.label=='J'?'Južna Europa':'Istočna Europa'"}}}},
    {"mark":{"type":"text","fontSize":18,"color":"#222222"},"encoding":{"x":{"field":"lx","type":"quantitative"},"y":{"field":"ly","type":"quantitative"},"text":{"field":"c"}}}
   ]}
  ]},
  {"spacing":0,"bounds":"flush","hconcat":[
  {"width":463,"height":231,"layer":[
   {"data":{"name":"quad"},"mark":{"type":"rect","clip":true,"opacity":0.3},"encoding":{
    "x":{"field":"x1","type":"quantitative","scale":{"domain":[0.00212,0.03703],"nice":false,"zero":false},"axis":{"title":null,"values":[0.005,0.01,0.015,0.02,0.025,0.03,0.035],"labelExpr":"abs(datum.value/0.01-round(datum.value/0.01))<1e-6?replace(format(datum.value,'.2f'),'−','-'):''","tickOpacity":{"condition":{"test":"abs(datum.value/0.01-round(datum.value/0.01))>1e-6","value":0},"value":1},"gridWidth":{"condition":{"test":"abs(datum.value/0.01-round(datum.value/0.01))>1e-6","value":0.6},"value":1.2}}},
    "x2":{"field":"x2"},
    "y":{"field":"y1","type":"quantitative","scale":{"domain":[-0.3249,0.0986],"nice":false,"zero":false},"axis":{"title":null,"values":[-0.3,-0.25,-0.2,-0.15,-0.1,-0.05,0,0.05],"labels":false,"ticks":false,"gridWidth":{"condition":{"test":"abs(datum.value/0.1-round(datum.value/0.1))>1e-6","value":0.6},"value":1.2}}},
    "y2":{"field":"y2"},
    "fill":{"condition":{"test":"datum.q=='b'","value":"#0f87ee"},"value":"#87c016"}}},
   {"data":{"name":"pts"},"transform":[{"filter":"datum.p=='A'&&datum.v==9"}],"layer":[
    {"transform":[{"filter":"isValid(datum.ex)"}],"mark":{"type":"rule","color":"#222222","strokeWidth":1.1},"encoding":{"x":{"field":"x","type":"quantitative"},"y":{"field":"y","type":"quantitative"},"x2":{"field":"ex"},"y2":{"field":"ey"}}},
    {"transform":[{"filter":"isValid(datum.ax)"}],"mark":{"type":"rule","color":"#ff0000","strokeWidth":1.5},"encoding":{"x":{"field":"x","type":"quantitative"},"y":{"field":"y","type":"quantitative"},"x2":{"field":"ax"}}},
    {"transform":[{"filter":"isValid(datum.ax)"}],"mark":{"type":"point","shape":"M-2,-1.15L0,0L-2,1.15","filled":false,"size":100,"color":"#ff0000","strokeWidth":1.5,"opacity":1},"encoding":{"x":{"field":"ax","type":"quantitative"},"y":{"field":"y","type":"quantitative"}}},
    {"mark":{"type":"circle","size":80,"opacity":1},"encoding":{"x":{"field":"x","type":"quantitative"},"y":{"field":"y","type":"quantitative"},"color":{"field":"r","type":"nominal","scale":{"domain":["S","Z","J","I"],"range":["#F8766D","#7CAE00","#00BFC4","#C77CFF"]},"legend":{"title":null,"legendX":152,"legendY":-62,"labelExpr":"datum.label=='S'?'Sjeverna Europa':datum.label=='Z'?'Zapadna Europa':datum.label=='J'?'Južna Europa':'Istočna Europa'"}}}},
    {"mark":{"type":"text","fontSize":18,"color":"#222222"},"encoding":{"x":{"field":"lx","type":"quantitative"},"y":{"field":"ly","type":"quantitative"},"text":{"field":"c"}}}
   ]}
  ]},
  {"width":27,"height":231,"view":{"fill":"#d9d9d9","stroke":"#333333","strokeWidth":1.2},"data":{"values":[{"t":"(I)ADL"}]},"mark":{"type":"text","fontSize":17.5,"angle":90,"color":"#1a1a1a"},"encoding":{"text":{"field":"t"}}}
  ]}
]},
{"spacing":14,"bounds":"flush","hconcat":[
  {"width":463,"height":231,"layer":[
   {"data":{"name":"quad"},"mark":{"type":"rect","clip":true,"opacity":0.3},"encoding":{
    "x":{"field":"x1","type":"quantitative","scale":{"domain":[-0.00736,0.05993],"nice":false,"zero":false},"axis":{"title":null,"values":[0,0.01,0.02,0.03,0.04,0.05],"labelExpr":"abs(datum.value/0.02-round(datum.value/0.02))<1e-6?replace(format(datum.value,'.2f'),'−','-'):''","tickOpacity":{"condition":{"test":"abs(datum.value/0.02-round(datum.value/0.02))>1e-6","value":0},"value":1},"gridWidth":{"condition":{"test":"abs(datum.value/0.02-round(datum.value/0.02))>1e-6","value":0.6},"value":1.2}}},
    "x2":{"field":"x2"},
    "y":{"field":"y1","type":"quantitative","scale":{"domain":[-0.1272,0.0307],"nice":false,"zero":false},"axis":{"title":null,"values":[-0.12,-0.1,-0.08,-0.06,-0.04,-0.02,0,0.02],"labelExpr":"abs(datum.value/0.04-round(datum.value/0.04))<1e-6?replace(format(datum.value,'.2f'),'−','-'):''","tickOpacity":{"condition":{"test":"abs(datum.value/0.04-round(datum.value/0.04))>1e-6","value":0},"value":1},"gridWidth":{"condition":{"test":"abs(datum.value/0.04-round(datum.value/0.04))>1e-6","value":0.6},"value":1.2}}},
    "y2":{"field":"y2"},
    "fill":{"condition":{"test":"datum.q=='b'","value":"#0f87ee"},"value":"#87c016"}}},
   {"data":{"name":"pts"},"transform":[{"filter":"datum.p=='K'&&datum.v==8"}],"layer":[
    {"transform":[{"filter":"isValid(datum.ex)"}],"mark":{"type":"rule","color":"#222222","strokeWidth":1.1},"encoding":{"x":{"field":"x","type":"quantitative"},"y":{"field":"y","type":"quantitative"},"x2":{"field":"ex"},"y2":{"field":"ey"}}},
    {"mark":{"type":"circle","size":80,"opacity":1},"encoding":{"x":{"field":"x","type":"quantitative"},"y":{"field":"y","type":"quantitative"},"color":{"field":"r","type":"nominal","scale":{"domain":["S","Z","J","I"],"range":["#F8766D","#7CAE00","#00BFC4","#C77CFF"]},"legend":{"title":null,"legendX":152,"legendY":-62,"labelExpr":"datum.label=='S'?'Sjeverna Europa':datum.label=='Z'?'Zapadna Europa':datum.label=='J'?'Južna Europa':'Istočna Europa'"}}}},
    {"mark":{"type":"text","fontSize":18,"color":"#222222"},"encoding":{"x":{"field":"lx","type":"quantitative"},"y":{"field":"ly","type":"quantitative"},"text":{"field":"c"}}}
   ]}
  ]},
  {"spacing":0,"bounds":"flush","hconcat":[
  {"width":463,"height":231,"layer":[
   {"data":{"name":"quad"},"mark":{"type":"rect","clip":true,"opacity":0.3},"encoding":{
    "x":{"field":"x1","type":"quantitative","scale":{"domain":[-0.02047,0.06176],"nice":false,"zero":false},"axis":{"title":null,"values":[-0.02,-0.01,0,0.01,0.02,0.03,0.04,0.05,0.06],"labelExpr":"abs(datum.value/0.02-round(datum.value/0.02))<1e-6?replace(format(datum.value,'.2f'),'−','-'):''","tickOpacity":{"condition":{"test":"abs(datum.value/0.02-round(datum.value/0.02))>1e-6","value":0},"value":1},"gridWidth":{"condition":{"test":"abs(datum.value/0.02-round(datum.value/0.02))>1e-6","value":0.6},"value":1.2}}},
    "x2":{"field":"x2"},
    "y":{"field":"y1","type":"quantitative","scale":{"domain":[-0.1272,0.0307],"nice":false,"zero":false},"axis":{"title":null,"values":[-0.12,-0.1,-0.08,-0.06,-0.04,-0.02,0,0.02],"labels":false,"ticks":false,"gridWidth":{"condition":{"test":"abs(datum.value/0.04-round(datum.value/0.04))>1e-6","value":0.6},"value":1.2}}},
    "y2":{"field":"y2"},
    "fill":{"condition":{"test":"datum.q=='b'","value":"#0f87ee"},"value":"#87c016"}}},
   {"data":{"name":"pts"},"transform":[{"filter":"datum.p=='K'&&datum.v==9"}],"layer":[
    {"transform":[{"filter":"isValid(datum.ex)"}],"mark":{"type":"rule","color":"#222222","strokeWidth":1.1},"encoding":{"x":{"field":"x","type":"quantitative"},"y":{"field":"y","type":"quantitative"},"x2":{"field":"ex"},"y2":{"field":"ey"}}},
    {"mark":{"type":"circle","size":80,"opacity":1},"encoding":{"x":{"field":"x","type":"quantitative"},"y":{"field":"y","type":"quantitative"},"color":{"field":"r","type":"nominal","scale":{"domain":["S","Z","J","I"],"range":["#F8766D","#7CAE00","#00BFC4","#C77CFF"]},"legend":{"title":null,"legendX":152,"legendY":-62,"labelExpr":"datum.label=='S'?'Sjeverna Europa':datum.label=='Z'?'Zapadna Europa':datum.label=='J'?'Južna Europa':'Istočna Europa'"}}}},
    {"mark":{"type":"text","fontSize":18,"color":"#222222"},"encoding":{"x":{"field":"lx","type":"quantitative"},"y":{"field":"ly","type":"quantitative"},"text":{"field":"c"}}}
   ]}
  ]},
  {"width":27,"height":231,"view":{"fill":"#d9d9d9","stroke":"#333333","strokeWidth":1.2},"data":{"values":[{"t":"Kronične bol."}]},"mark":{"type":"text","fontSize":17.5,"angle":90,"color":"#1a1a1a"},"encoding":{"text":{"field":"t"}}}
  ]}
]},
{"spacing":14,"bounds":"flush","hconcat":[
  {"width":463,"height":231,"layer":[
   {"data":{"name":"quad"},"mark":{"type":"rect","clip":true,"opacity":0.3},"encoding":{
    "x":{"field":"x1","type":"quantitative","scale":{"domain":[-0.1545,1.0558],"nice":false,"zero":false},"axis":{"title":null,"values":[-0.125,0,0.125,0.25,0.375,0.5,0.625,0.75,0.875,1],"labelExpr":"abs(datum.value/0.25-round(datum.value/0.25))<1e-6?replace(format(datum.value,'.2f'),'−','-'):''","tickOpacity":{"condition":{"test":"abs(datum.value/0.25-round(datum.value/0.25))>1e-6","value":0},"value":1},"gridWidth":{"condition":{"test":"abs(datum.value/0.25-round(datum.value/0.25))>1e-6","value":0.6},"value":1.2}}},
    "x2":{"field":"x2"},
    "y":{"field":"y1","type":"quantitative","scale":{"domain":[-0.02105,0.00212],"nice":false,"zero":false},"axis":{"title":null,"values":[-0.02,-0.0175,-0.015,-0.0125,-0.01,-0.0075,-0.005,-0.0025,0],"labelExpr":"abs(datum.value/0.005-round(datum.value/0.005))<1e-6?replace(format(datum.value,'.3f'),'−','-'):''","tickOpacity":{"condition":{"test":"abs(datum.value/0.005-round(datum.value/0.005))>1e-6","value":0},"value":1},"gridWidth":{"condition":{"test":"abs(datum.value/0.005-round(datum.value/0.005))>1e-6","value":0.6},"value":1.2}}},
    "y2":{"field":"y2"},
    "fill":{"condition":{"test":"datum.q=='b'","value":"#0f87ee"},"value":"#87c016"}}},
   {"data":{"name":"pts"},"transform":[{"filter":"datum.p=='D'&&datum.v==8"}],"layer":[
    {"transform":[{"filter":"isValid(datum.ex)"}],"mark":{"type":"rule","color":"#222222","strokeWidth":1.1},"encoding":{"x":{"field":"x","type":"quantitative"},"y":{"field":"y","type":"quantitative"},"x2":{"field":"ex"},"y2":{"field":"ey"}}},
    {"mark":{"type":"circle","size":80,"opacity":1},"encoding":{"x":{"field":"x","type":"quantitative"},"y":{"field":"y","type":"quantitative"},"color":{"field":"r","type":"nominal","scale":{"domain":["S","Z","J","I"],"range":["#F8766D","#7CAE00","#00BFC4","#C77CFF"]},"legend":{"title":null,"legendX":152,"legendY":-62,"labelExpr":"datum.label=='S'?'Sjeverna Europa':datum.label=='Z'?'Zapadna Europa':datum.label=='J'?'Južna Europa':'Istočna Europa'"}}}},
    {"mark":{"type":"text","fontSize":18,"color":"#222222"},"encoding":{"x":{"field":"lx","type":"quantitative"},"y":{"field":"ly","type":"quantitative"},"text":{"field":"c"}}}
   ]}
  ]},
  {"spacing":0,"bounds":"flush","hconcat":[
  {"width":463,"height":231,"layer":[
   {"data":{"name":"quad"},"mark":{"type":"rect","clip":true,"opacity":0.3},"encoding":{
    "x":{"field":"x1","type":"quantitative","scale":{"domain":[-0.0764,1.0416],"nice":false,"zero":false},"axis":{"title":null,"values":[0,0.125,0.25,0.375,0.5,0.625,0.75,0.875,1],"labelExpr":"abs(datum.value/0.25-round(datum.value/0.25))<1e-6?replace(format(datum.value,'.2f'),'−','-'):''","tickOpacity":{"condition":{"test":"abs(datum.value/0.25-round(datum.value/0.25))>1e-6","value":0},"value":1},"gridWidth":{"condition":{"test":"abs(datum.value/0.25-round(datum.value/0.25))>1e-6","value":0.6},"value":1.2}}},
    "x2":{"field":"x2"},
    "y":{"field":"y1","type":"quantitative","scale":{"domain":[-0.02105,0.00212],"nice":false,"zero":false},"axis":{"title":null,"values":[-0.02,-0.0175,-0.015,-0.0125,-0.01,-0.0075,-0.005,-0.0025,0],"labels":false,"ticks":false,"gridWidth":{"condition":{"test":"abs(datum.value/0.005-round(datum.value/0.005))>1e-6","value":0.6},"value":1.2}}},
    "y2":{"field":"y2"},
    "fill":{"condition":{"test":"datum.q=='b'","value":"#0f87ee"},"value":"#87c016"}}},
   {"data":{"name":"pts"},"transform":[{"filter":"datum.p=='D'&&datum.v==9"}],"layer":[
    {"transform":[{"filter":"isValid(datum.ex)"}],"mark":{"type":"rule","color":"#222222","strokeWidth":1.1},"encoding":{"x":{"field":"x","type":"quantitative"},"y":{"field":"y","type":"quantitative"},"x2":{"field":"ex"},"y2":{"field":"ey"}}},
    {"mark":{"type":"circle","size":80,"opacity":1},"encoding":{"x":{"field":"x","type":"quantitative"},"y":{"field":"y","type":"quantitative"},"color":{"field":"r","type":"nominal","scale":{"domain":["S","Z","J","I"],"range":["#F8766D","#7CAE00","#00BFC4","#C77CFF"]},"legend":{"title":null,"legendX":152,"legendY":-62,"labelExpr":"datum.label=='S'?'Sjeverna Europa':datum.label=='Z'?'Zapadna Europa':datum.label=='J'?'Južna Europa':'Istočna Europa'"}}}},
    {"mark":{"type":"text","fontSize":18,"color":"#222222"},"encoding":{"x":{"field":"lx","type":"quantitative"},"y":{"field":"ly","type":"quantitative"},"text":{"field":"c"}}}
   ]}
  ]},
  {"width":27,"height":231,"view":{"fill":"#d9d9d9","stroke":"#333333","strokeWidth":1.2},"data":{"values":[{"t":"Dob"}]},"mark":{"type":"text","fontSize":17.5,"angle":90,"color":"#1a1a1a"},"encoding":{"text":{"field":"t"}}}
  ]}
]},
{"spacing":4,"vconcat":[
{"spacing":14,"bounds":"flush","hconcat":[
  {"width":463,"height":231,"layer":[
   {"data":{"name":"quad"},"mark":{"type":"rect","clip":true,"opacity":0.3},"encoding":{
    "x":{"field":"x1","type":"quantitative","scale":{"domain":[-0.02214,0.04869],"nice":false,"zero":false},"axis":{"title":null,"values":[-0.02,-0.01,0,0.01,0.02,0.03,0.04],"labelExpr":"abs(datum.value/0.02-round(datum.value/0.02))<1e-6?replace(format(datum.value,'.2f'),'−','-'):''","tickOpacity":{"condition":{"test":"abs(datum.value/0.02-round(datum.value/0.02))>1e-6","value":0},"value":1},"gridWidth":{"condition":{"test":"abs(datum.value/0.02-round(datum.value/0.02))>1e-6","value":0.6},"value":1.2}}},
    "x2":{"field":"x2"},
    "y":{"field":"y1","type":"quantitative","scale":{"domain":[-0.1134,0.0107],"nice":false,"zero":false},"axis":{"title":null,"values":[-0.09,-0.06,-0.03,0],"labelExpr":"replace(format(datum.value,'.2f'),'−','-')","gridWidth":1.2}},
    "y2":{"field":"y2"},
    "fill":{"condition":{"test":"datum.q=='b'","value":"#0f87ee"},"value":"#87c016"}}},
   {"data":{"name":"pts"},"transform":[{"filter":"datum.p=='S'&&datum.v==8"}],"layer":[
    {"transform":[{"filter":"isValid(datum.ex)"}],"mark":{"type":"rule","color":"#222222","strokeWidth":1.1},"encoding":{"x":{"field":"x","type":"quantitative"},"y":{"field":"y","type":"quantitative"},"x2":{"field":"ex"},"y2":{"field":"ey"}}},
    {"mark":{"type":"circle","size":80,"opacity":1},"encoding":{"x":{"field":"x","type":"quantitative"},"y":{"field":"y","type":"quantitative"},"color":{"field":"r","type":"nominal","scale":{"domain":["S","Z","J","I"],"range":["#F8766D","#7CAE00","#00BFC4","#C77CFF"]},"legend":{"title":null,"legendX":152,"legendY":-62,"labelExpr":"datum.label=='S'?'Sjeverna Europa':datum.label=='Z'?'Zapadna Europa':datum.label=='J'?'Južna Europa':'Istočna Europa'"}}}},
    {"mark":{"type":"text","fontSize":18,"color":"#222222"},"encoding":{"x":{"field":"lx","type":"quantitative"},"y":{"field":"ly","type":"quantitative"},"text":{"field":"c"}}}
   ]}
  ]},
  {"spacing":0,"bounds":"flush","hconcat":[
  {"width":463,"height":231,"layer":[
   {"data":{"name":"quad"},"mark":{"type":"rect","clip":true,"opacity":0.3},"encoding":{
    "x":{"field":"x1","type":"quantitative","scale":{"domain":[-0.025,0.04206],"nice":false,"zero":false},"axis":{"title":null,"values":[-0.02,-0.01,0,0.01,0.02,0.03,0.04],"labelExpr":"abs(datum.value/0.02-round(datum.value/0.02))<1e-6?replace(format(datum.value,'.2f'),'−','-'):''","tickOpacity":{"condition":{"test":"abs(datum.value/0.02-round(datum.value/0.02))>1e-6","value":0},"value":1},"gridWidth":{"condition":{"test":"abs(datum.value/0.02-round(datum.value/0.02))>1e-6","value":0.6},"value":1.2}}},
    "x2":{"field":"x2"},
    "y":{"field":"y1","type":"quantitative","scale":{"domain":[-0.1134,0.0107],"nice":false,"zero":false},"axis":{"title":null,"values":[-0.09,-0.06,-0.03,0],"labels":false,"ticks":false,"gridWidth":1.2}},
    "y2":{"field":"y2"},
    "fill":{"condition":{"test":"datum.q=='b'","value":"#0f87ee"},"value":"#87c016"}}},
   {"data":{"name":"pts"},"transform":[{"filter":"datum.p=='S'&&datum.v==9"}],"layer":[
    {"transform":[{"filter":"isValid(datum.ex)"}],"mark":{"type":"rule","color":"#222222","strokeWidth":1.1},"encoding":{"x":{"field":"x","type":"quantitative"},"y":{"field":"y","type":"quantitative"},"x2":{"field":"ex"},"y2":{"field":"ey"}}},
    {"mark":{"type":"circle","size":80,"opacity":1},"encoding":{"x":{"field":"x","type":"quantitative"},"y":{"field":"y","type":"quantitative"},"color":{"field":"r","type":"nominal","scale":{"domain":["S","Z","J","I"],"range":["#F8766D","#7CAE00","#00BFC4","#C77CFF"]},"legend":{"title":null,"legendX":152,"legendY":-62,"labelExpr":"datum.label=='S'?'Sjeverna Europa':datum.label=='Z'?'Zapadna Europa':datum.label=='J'?'Južna Europa':'Istočna Europa'"}}}},
    {"mark":{"type":"text","fontSize":18,"color":"#222222"},"encoding":{"x":{"field":"lx","type":"quantitative"},"y":{"field":"ly","type":"quantitative"},"text":{"field":"c"}}}
   ]}
  ]},
  {"width":27,"height":231,"view":{"fill":"#d9d9d9","stroke":"#333333","strokeWidth":1.2},"data":{"values":[{"t":"Spol"}]},"mark":{"type":"text","fontSize":17.5,"angle":90,"color":"#1a1a1a"},"encoding":{"text":{"field":"t"}}}
  ]}
]},
{"width":940,"height":22,"view":{"stroke":null},"data":{"values":[{"t":"Elastičnost"}]},"mark":{"type":"text","fontSize":22,"color":"#000000"},"encoding":{"text":{"field":"t"}}}
]}
]}
]}
]
}
